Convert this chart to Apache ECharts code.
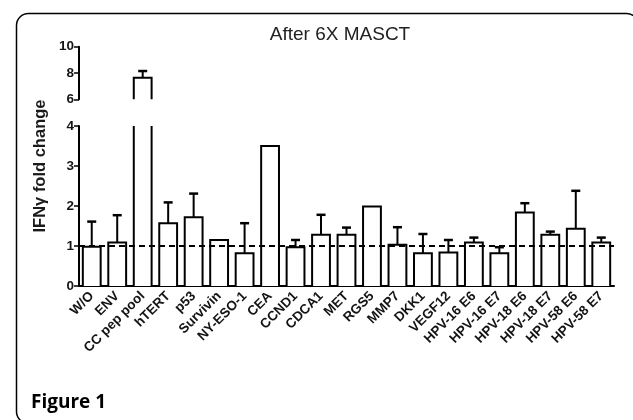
<!DOCTYPE html>
<html>
<head>
<meta charset="utf-8">
<script src="https://cdn.jsdelivr.net/npm/echarts@6/dist/echarts.min.js"></script>
<style>html,body{margin:0;padding:0;background:#fff;}#c{width:633px;height:420px;}</style>
</head>
<body>
<div id="c"></div>
<script>
const categories = ['W/O','ENV','CC pep pool','hTERT','p53','Survivin','NY-ESO-1','CEA','CCND1','CDCA1','MET','RGS5','MMP7','DKK1','VEGF12','HPV-16 E6','HPV-16 E7','HPV-18 E6','HPV-18 E7','HPV-58 E6','HPV-58 E7'];
const means   = [0.98, 1.09, 7.64, 1.57, 1.72, 1.15, 0.82, 3.5, 0.97, 1.28, 1.28, 1.99, 1.03, 0.82, 0.84, 1.09, 0.82, 1.84, 1.28, 1.43, 1.09];
const errTops = [1.61, 1.77, 8.15, 2.09, 2.31, 1.15, 1.57, 3.5, 1.15, 1.78, 1.46, 1.99, 1.47, 1.30, 1.15, 1.21, 0.97, 2.07, 1.36, 2.38, 1.21];
const lowerTicks = [0, 4, 1];   // min, max, interval
const upperTicks = [6, 10, 2];
const refLine = 1;

const data = categories.map((c, i) => [i, means[i], errTops[i]]);

function makeRender(axMin, axMax) {
  return function (params, api) {
    const i = api.value(0), v = api.value(1), e = api.value(2);
    const bw = api.size([1, 0])[0] * 0.7;
    const base = api.coord([i, axMin]);
    const cx = base[0], y0 = base[1];
    const l = cx - bw / 2, r = cx + bw / 2;
    const children = [];
    if (v <= axMin) return { type: 'group', children: [] };
    const vc = Math.min(v, axMax);
    const top = api.coord([i, vc])[1];
    const ls = { stroke: '#000', lineWidth: 2, fill: null };
    children.push({ type: 'rect', shape: { x: l, y: top, width: bw, height: y0 - top }, style: { fill: '#fff' } });
    if (v <= axMax) {
      children.push({ type: 'polyline', shape: { points: [[l, y0], [l, top], [r, top], [r, y0]] }, style: ls });
      if (e > v && e <= axMax) {
        const et = api.coord([i, e])[1];
        children.push({ type: 'line', shape: { x1: cx, y1: top, x2: cx, y2: et }, style: ls });
        children.push({ type: 'line', shape: { x1: cx - 4.5, y1: et, x2: cx + 4.5, y2: et }, style: { stroke: '#000', lineWidth: 2.5 } });
      }
    } else {
      children.push({ type: 'line', shape: { x1: l, y1: y0, x2: l, y2: top }, style: ls });
      children.push({ type: 'line', shape: { x1: r, y1: y0, x2: r, y2: top }, style: ls });
    }
    return { type: 'group', children: children };
  };
}

const chart = echarts.init(document.getElementById('c'));
const axisLabelStyle = { color: '#141414', fontFamily: 'Liberation Sans, Arial', fontWeight: 'bold', fontSize: 13.5 };
chart.setOption({
  animation: false,
  backgroundColor: '#fff',
  grid: [
    { left: 79, right: 19, top: 126, bottom: 134 },
    { left: 79, right: 19, top: 46.7, bottom: 320.7 }
  ],
  xAxis: [
    {
      type: 'category', gridIndex: 0, data: categories,
      axisLine: { lineStyle: { color: '#000', width: 2 } },
      axisTick: { alignWithLabel: true, length: 5, lineStyle: { color: '#000', width: 1.5 } },
      axisLabel: Object.assign({ rotate: 45, interval: 0, margin: 8 }, axisLabelStyle)
    },
    { type: 'category', gridIndex: 1, data: categories, show: false }
  ],
  yAxis: [
    {
      type: 'value', gridIndex: 0, min: lowerTicks[0], max: lowerTicks[1], interval: lowerTicks[2],
      axisLine: { show: true, lineStyle: { color: '#000', width: 2 } },
      axisTick: { show: true, length: 5, lineStyle: { color: '#000', width: 1.5 } },
      splitLine: { show: false },
      axisLabel: Object.assign({ margin: 5 }, axisLabelStyle, { fontSize: 13.5 })
    },
    {
      type: 'value', gridIndex: 1, min: upperTicks[0], max: upperTicks[1], interval: upperTicks[2],
      axisLine: { show: true, lineStyle: { color: '#000', width: 2 } },
      axisTick: { show: true, length: 5, lineStyle: { color: '#000', width: 1.5 } },
      splitLine: { show: false },
      axisLabel: Object.assign({ margin: 5 }, axisLabelStyle, { fontSize: 13.5 })
    }
  ],
  series: [
    {
      type: 'custom', xAxisIndex: 0, yAxisIndex: 0, data: data, clip: false,
      renderItem: makeRender(lowerTicks[0], lowerTicks[1]),
      markLine: {
        silent: true, symbol: 'none', z: 10,
        label: { show: false },
        lineStyle: { color: '#000', type: [6, 4], width: 2 },
        data: [{ yAxis: refLine }]
      }
    },
    {
      type: 'custom', xAxisIndex: 1, yAxisIndex: 1, data: data, clip: false,
      renderItem: makeRender(upperTicks[0], upperTicks[1])
    }
  ],
  graphic: [
    {
      type: 'rect', left: 14, top: 11, z: 100,
      shape: { width: 622, height: 410, r: 12 },
      style: { fill: null, stroke: '#000', lineWidth: 1.5 }
    },
    {
      type: 'text', x: 340, y: 35, z: 100,
      style: {
        text: 'After 6X MASCT', textAlign: 'center', textVerticalAlign: 'middle',
        font: '19px "Liberation Sans", Arial', fill: '#222'
      }
    },
    {
      type: 'text', x: 40, y: 166, rotation: Math.PI / 2, z: 100,
      style: {
        text: 'IFNγ fold change', textAlign: 'center', textVerticalAlign: 'middle',
        font: 'bold 16.5px "Liberation Sans", Arial', fill: '#1a1a1a'
      }
    },
    {
      type: 'text', x: 31, y: 403, z: 100,
      style: { text: 'Figure 1', textVerticalAlign: 'middle', font: 'bold 19px "Open Sans"', fill: '#000' }
    }
  ]
});
</script>
</body>
</html>
